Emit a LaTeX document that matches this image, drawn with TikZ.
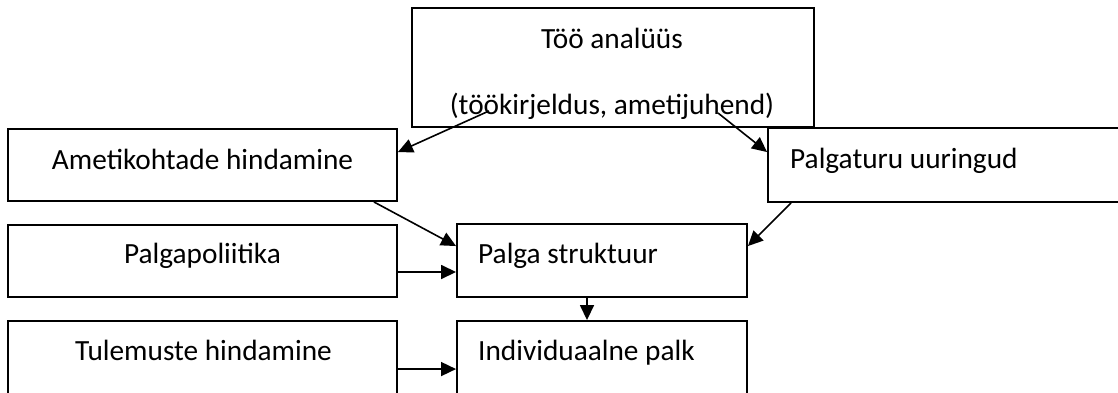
\documentclass[tikz,border=0pt]{standalone}
\usepackage{fontspec}
\setmainfont{Carlito}
\usetikzlibrary{arrows.meta}
\begin{document}
\begin{tikzpicture}[x=1pt,y=1pt,
  box/.style={draw=black,line width=1.9pt,rectangle,inner sep=0pt,minimum width=#1},
  lbl/.style={inner sep=0pt,font=\fontsize{29.3}{35}\selectfont},
  arr/.style={line width=1.6pt,-{Triangle[length=15pt,width=14pt]}}]
\useasboundingbox (0,0) rectangle (1118,392);
\clip (0,0) rectangle (1118,392);
% boxes
\node[box=402pt,minimum height=119pt] (top) at (613,324.5) {};
\node[box=389pt,minimum height=72pt] (amet) at (202.5,227) {};
\node[box=362pt,minimum height=74pt] (turu) at (949,227) {};
\node[box=389pt,minimum height=72pt] (poli) at (202.5,131) {};
\node[box=290pt,minimum height=73pt] (strukt) at (602,131.5) {};
\node[box=389pt,minimum height=79pt] (tul) at (202.5,31.5) {};
\node[box=290pt,minimum height=79pt] (indiv) at (602,31.5) {};
% texts
\node[lbl,anchor=base] (t1) at (612,344) {Töö analüüs};
\node[lbl,anchor=base] (t2) at (612,278) {(töökirjeldus, ametijuhend)};
\node[lbl,anchor=base] (t3) at (202.5,223) {Ametikohtade hindamine};
\node[lbl,anchor=base west] (t4) at (790,224) {Palgaturu uuringud};
\node[lbl,anchor=base] (t5) at (202.5,129) {Palgapoliitika};
\node[lbl,anchor=base west] (t6) at (478,129) {Palga struktuur};
\node[lbl,anchor=base] (t7) at (203.5,32) {Tulemuste hindamine};
\node[lbl,anchor=base west] (t8) at (478,32) {Individuaalne palk};
% arrows
\draw[arr] ([xshift=78pt,yshift=17pt]top.south west) -- ([yshift=-24pt]amet.north east);
\draw[arr] ([xshift=-97pt,yshift=15pt]top.south east) -- ([yshift=-25pt]turu.north west);
\draw[arr] ([xshift=-24pt]amet.south east) -- ([yshift=-23pt]strukt.north west);
\draw[arr] ([xshift=24pt]turu.south west) -- ([yshift=-23pt]strukt.north east);
\draw[arr] ([yshift=-11pt]poli.east) -- ([yshift=-11.5pt]strukt.west);
\draw[arr] ([xshift=-15pt]strukt.south) -- ([xshift=-15pt]indiv.north);
\draw[arr] ([yshift=-49pt]tul.north east) -- ([yshift=-49pt]indiv.north west);
\end{tikzpicture}
\end{document}
